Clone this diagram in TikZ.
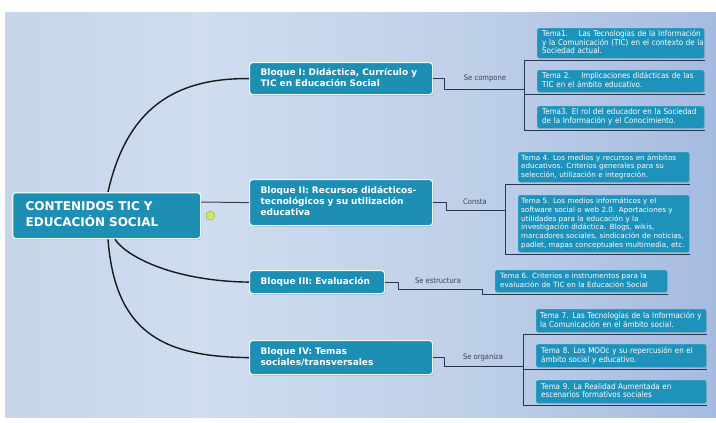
\documentclass[tikz,border=0pt]{standalone}
\usepackage{fontspec}
\setmainfont{DejaVu Sans}
\newfontfamily\narrowfont[FakeStretch=0.895]{DejaVu Sans}
\usetikzlibrary{calc,shadows}

\definecolor{boxfill}{RGB}{29,143,181}
\definecolor{tbfill}{RGB}{30,146,186}
\definecolor{rim}{RGB}{236,246,251}
\definecolor{wire}{RGB}{40,55,80}
\definecolor{lbl}{RGB}{60,66,80}
\definecolor{bgA}{RGB}{198,213,234}
\definecolor{bgB}{RGB}{207,221,239}
\definecolor{bgC}{RGB}{190,207,232}
\definecolor{bgD}{RGB}{166,187,225}
\definecolor{dotfill}{RGB}{205,232,105}
\definecolor{dotrim}{RGB}{150,190,60}

% background panel, light on the left, deeper blue to the right
\pgfdeclarehorizontalshading{panelshade}{100bp}{color(0bp)=(bgA); color(25bp)=(bgA); color(39bp)=(bgB); color(58bp)=(bgC); color(75bp)=(bgD); color(100bp)=(bgD)}

% lines that never wrap inside a box
\newcommand\rows[1]{\begin{tabular}{@{}l@{}}#1\end{tabular}}

\begin{document}
\begin{tikzpicture}[x=1pt,y=-1pt,
  boxbase/.style={anchor=north west, inner ysep=0pt, text=white, align=left},
  hub/.style={boxbase, draw=rim, line width=1.3pt, fill=boxfill, rounded corners=3pt,
    font=\bfseries\fontsize{12}{15}\selectfont,
    drop shadow={shadow xshift=1pt,shadow yshift=-1.2pt,opacity=0.35}},
  bloque/.style={boxbase, draw=rim, line width=1.2pt, fill=boxfill, rounded corners=3pt,
    font=\bfseries\fontsize{9}{11}\selectfont, inner xsep=11pt,
    drop shadow={shadow xshift=1pt,shadow yshift=-1.2pt,opacity=0.35}},
  tema/.style={boxbase, draw=tbfill!75!white, line width=0.4pt, fill=tbfill, rounded corners=1.5pt,
    font=\fontsize{7.2}{8.7}\selectfont, inner xsep=3pt,
    drop shadow={shadow xshift=0.8pt,shadow yshift=-0.8pt,opacity=0.25}},
  temanarrow/.style={tema, font=\narrowfont\fontsize{8}{8.6}\selectfont, inner xsep=5pt},
  linklabel/.style={font=\narrowfont\fontsize{7.6}{9}\selectfont, text=lbl, inner sep=0pt},
  branch/.style={line width=1.4pt, draw=black!90},
  wire/.style={draw=wire, line width=0.8pt},
]
\useasboundingbox (0,0) rectangle (716,423);
\fill[white] (0,0) rectangle (716,423);
\path[shading=panelshade] (5,12) rectangle (716,417);

% central topic
\node[hub, minimum width=188pt, minimum height=46pt, inner xsep=13pt, text width=162pt] (hub) at (12,192)
  {\rows{CONTENIDOS TIC Y\\EDUCACIÓN SOCIAL}};

% blocks
\node[bloque, minimum width=183pt, minimum height=32pt, text width=161pt] (b1) at (249,62)
  {\rows{Bloque I: Didáctica, Currículo y\\TIC en Educación Social}};
\node[bloque, minimum width=183pt, minimum height=46pt, text width=161pt] (b2) at (249,179)
  {\rows{Bloque II: Recursos didácticos-\\tecnológicos y su utilización\\educativa}};
\node[bloque, minimum width=135pt, minimum height=23pt, text width=113pt] (b3) at (249,270)
  {\rows{Bloque III: Evaluación}};
\node[bloque, minimum width=183pt, minimum height=34pt, text width=161pt] (b4) at (249,340)
  {\rows{Bloque IV: Temas\\sociales/transversales}};

% main branches from the central topic
\draw[branch] ([xshift=96pt]hub.north west) .. controls (127,108) and (175,78) .. (b1.west);
\draw[line width=1pt, draw=black!75] ($(hub.north east)+(0,10)$) -- (b2.west);
\draw[branch] ([xshift=103pt]hub.south west) .. controls (125,255) and (170,281) .. (b3.west);
\draw[branch] ([xshift=96pt]hub.south west) .. controls (115,330) and (160,357) .. (b4.west);

\node[circle, fill=dotfill, draw=dotrim, line width=0.5pt, minimum size=9pt, inner sep=0pt] (dot)
  at ($(hub.east)+(9,0)$) {};

% topics
\node[temanarrow, minimum width=167pt, minimum height=30pt, text width=157pt] (t1) at (537,28)
  {\rows{Tema1.\ \ \ \ Las Tecnologías de la Información\\y la Comunicación (TIC) en el contexto de la\\Sociedad actual.}};
\node[temanarrow, minimum width=167pt, minimum height=22pt, text width=157pt] (t2) at (537,70)
  {\rows{Tema 2.\ \ \ \ Implicaciones didácticas de las\\TIC en el ámbito educativo.}};
\node[temanarrow, minimum width=167pt, minimum height=22pt, text width=157pt] (t3) at (537,106)
  {\rows{Tema3. El rol del educador en la Sociedad\\de la Información y el Conocimiento.}};

\node[tema, minimum width=171pt, minimum height=30pt, text width=165pt] (t4) at (518,152)
  {\rows{Tema 4. Los medios y recursos en ámbitos\\educativos. Criterios generales para su\\selección, utilización e integración.}};
\node[tema, minimum width=171pt, minimum height=57pt, text width=165pt] (t5) at (518,195)
  {\rows{Tema 5. Los medios informáticos y el\\software social o web 2.0. Aportaciones y\\utilidades para la educación y la\\investigación didáctica. Blogs, wikis,\\marcadores sociales, sindicación de noticias,\\padlet, mapas conceptuales multimedia, etc.}};

\node[tema, minimum width=172pt, minimum height=22pt, inner xsep=5pt, text width=162pt] (t6) at (495,270)
  {\rows{Tema 6. Criterios e instrumentos para la\\evaluación de TIC en la Educación Social}};

\node[temanarrow, minimum width=170pt, minimum height=23pt, inner xsep=4pt, text width=162pt] (t7) at (536,309)
  {\rows{Tema 7. Las Tecnologías de la Información y\\la Comunicación en el ámbito social.}};
\node[temanarrow, minimum width=170pt, minimum height=23pt, text width=160pt] (t8) at (536,344)
  {\rows{Tema 8. Los MOOc y su repercusión en el\\ámbito social y educativo.}};
\node[temanarrow, minimum width=170pt, minimum height=23pt, text width=160pt] (t9) at (536,380)
  {\rows{Tema 9. La Realidad Aumentada en\\escenarios formativos sociales}};

% relation labels
\node[linklabel] (l1) at (485,78) {Se compone};
\node[linklabel] (l2) at (475,202) {Consta};
\node[linklabel] (l3) at (438,281) {Se estructura};
\node[linklabel] (l4) at (483,357) {Se organiza};

% bracket joints
\coordinate (k1) at (524,89);
\coordinate (k2) at (505,210);
\coordinate (k3) at (482,289);
\coordinate (k4) at (523,366);

% block I
\draw[wire] (b1.east) -- ++(11,0) |- (k1);
\draw[wire] ($(k1 |- t1.south)+(0,2)$) -- ($(k1 |- t3.south)+(0,2)$);
\foreach \t in {t1,t2,t3}
  \draw[wire] ($(k1 |- \t.south)+(0,2)$) -- ($(\t.south east)+(1,2)$);

% block II
\draw[wire] (b2.east) -- ++(13,0) |- (k2);
\draw[wire] ($(k2 |- t4.south)+(0,2)$) -- ($(k2 |- t5.south)+(0,2)$);
\foreach \t in {t4,t5}
  \draw[wire] ($(k2 |- \t.south)+(0,2)$) -- ($(\t.south east)+(1,2)$);

% block III
\draw[wire] (b3.east) -- ++(13,0) |- (k3) -- ($(k3 |- t6.south)+(0,2)$) -- ($(t6.south east)+(1,2)$);

% block IV
\draw[wire] (b4.east) -- ++(11,0) |- (k4);
\draw[wire] ($(k4 |- t7.south)+(0,2)$) -- ($(k4 |- t9.south)+(0,2)$);
\foreach \t in {t7,t8,t9}
  \draw[wire] ($(k4 |- \t.south)+(0,2)$) -- ($(\t.south east)+(1,2)$);
\end{tikzpicture}
\end{document}
